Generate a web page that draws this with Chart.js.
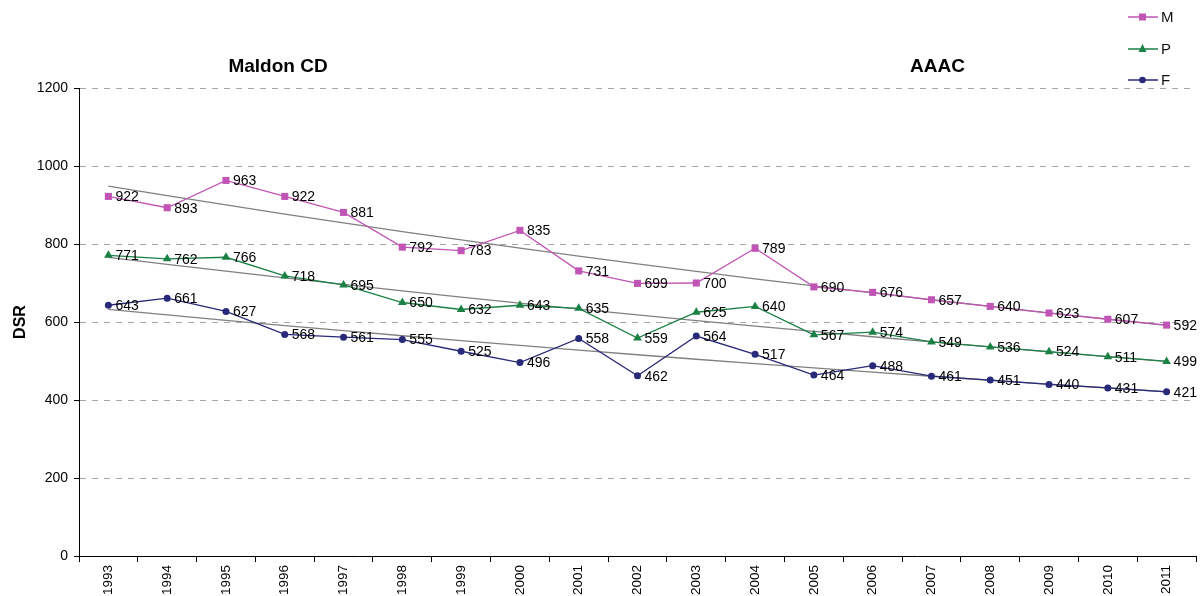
<!DOCTYPE html>
<html><head><meta charset="utf-8">
<script src="https://cdn.jsdelivr.net/npm/chart.js@4.4.0/dist/chart.umd.min.js"></script>
<style>html,body{margin:0;padding:0;background:#fff}#wrap{width:1204px;height:596px;position:relative}</style>
</head><body><div id="wrap"><canvas id="c"></canvas></div>
<script>
const years = ['1993','1994','1995','1996','1997','1998','1999','2000','2001','2002','2003','2004','2005','2006','2007','2008','2009','2010','2011'];
const seriesM = [922,893,963,922,881,792,783,835,731,699,700,789,690,676,657,640,623,607,592];
const seriesP = [771,762,766,718,695,650,632,643,635,559,625,640,567,574,549,536,524,511,499];
const seriesF = [643,661,627,568,561,555,525,496,558,462,564,517,464,488,461,451,440,431,421];
const yTicks = [0,200,400,600,800,1000,1200];
const leftTitle = 'Maldon CD';
const rightTitle = 'AAAC';
const yTitle = 'DSR';

const colM = '#c055b5', colP = '#1a8044', colF = '#29297a', colTrend = '#808080';
const FONT = '"Liberation Sans", Arial, sans-serif';

// exponential trendline (least squares on ln y), as Excel's "Exponential" trend
function trend(arr){
  const n = arr.length; let sx=0, sy=0, sxy=0, sxx=0;
  arr.forEach((v,i)=>{const l=Math.log(v); sx+=i; sy+=l; sxy+=i*l; sxx+=i*i;});
  const b = (n*sxy - sx*sy)/(n*sxx - sx*sx); const a = (sy - b*sx)/n;
  return arr.map((v,i)=>Math.exp(a+b*i));
}

const labelPlugin = {
  id:'labels',
  afterDatasetsDraw(chart){
    const ctx = chart.ctx;
    ctx.save();
    ctx.font = '14px ' + FONT; ctx.fillStyle = '#000'; ctx.textBaseline = 'middle'; ctx.textAlign = 'left';
    chart.data.datasets.forEach((ds, di)=>{
      if(!ds.showLabels) return;
      const meta = chart.getDatasetMeta(di);
      meta.data.forEach((pt, i)=>{ ctx.fillText(String(ds.data[i]), pt.x + 7, pt.y + 1); });
    });
    ctx.font = 'bold 19px ' + FONT; ctx.textAlign = 'center'; ctx.fillStyle = '#000';
    ctx.fillText(leftTitle, 278, 67);
    ctx.fillText(rightTitle, 937.5, 67);
    const items = [['M', colM, 'rect', 17], ['P', colP, 'triangle', 49], ['F', colF, 'circle', 80]];
    items.forEach(([t, c, s, y])=>{
      ctx.strokeStyle = c; ctx.lineWidth = 1.5; ctx.beginPath(); ctx.moveTo(1128, y); ctx.lineTo(1158, y); ctx.stroke();
      ctx.fillStyle = c; ctx.beginPath();
      if(s==='rect'){ ctx.rect(1139, y-3.5, 7, 7); }
      else if(s==='triangle'){ ctx.moveTo(1142.5, y-5); ctx.lineTo(1146.5, y+3); ctx.lineTo(1138.5, y+3); ctx.closePath(); }
      else { ctx.arc(1142.5, y, 3.3, 0, Math.PI*2); }
      ctx.fill();
      ctx.fillStyle = '#111'; ctx.font = '15px ' + FONT; ctx.textAlign = 'left'; ctx.textBaseline='middle';
      ctx.fillText(t, 1161, y + 1);
    });
    ctx.restore();
  }
};

function mk(label, data, color, style, radius){
  return {label, data, borderColor: color, backgroundColor: color, borderWidth: 1.3, pointStyle: style,
    pointRadius: radius, pointHoverRadius: radius, pointBorderWidth: 0, tension: 0, showLabels: true, order: 1};
}
function tr(data){
  return {label:'trend', data: trend(data), borderColor: colTrend, borderWidth: 1.3, pointRadius: 0, tension: 0, showLabels: false, order: 2};
}

new Chart(document.getElementById('c'), {
  type:'line',
  data:{ labels: years, datasets:[ mk('M', seriesM, colM, 'rect', 5), mk('P', seriesP, colP, 'triangle', 5), mk('F', seriesF, colF, 'circle', 3.5), tr(seriesM), tr(seriesP), tr(seriesF) ] },
  options:{
    responsive:true, maintainAspectRatio:false, animation:false,
    layout:{ padding:{ top:88, right:8, left:0, bottom:0 } },
    plugins:{ legend:{display:false}, tooltip:{enabled:false}, title:{display:false} },
    scales:{
      x:{ offset:true,
        grid:{ display:true, drawOnChartArea:false, offset:true, tickLength:6, tickColor:'#000' },
        border:{ color:'#000', width:1 },
        ticks:{ font:{ family: FONT, size:13.5 }, color:'#000', minRotation:90, maxRotation:90, autoSkip:false, padding:3 },
        afterFit(s){ s.height = 40; }
      },
      y:{ min:0, max:1200,
        afterBuildTicks(s){ s.ticks = yTicks.map(v=>({value:v})); },
        grid:{ color:'#a6a6a6', tickColor:'#000', tickLength:5, tickBorderDash:[] },
        border:{ color:'#000', width:1, dash:[6,6] },
        ticks:{ font:{ family: FONT, size:14 }, color:'#000', padding:6, callback:(v)=>String(v) },
        title:{ display:true, text: yTitle, font:{ family: FONT, size:16, weight:'bold' }, color:'#000', padding:{top:11,bottom:0} },
        afterFit(s){ s.width = 79; }
      }
    }
  },
  plugins:[labelPlugin]
});
</script></body></html>
